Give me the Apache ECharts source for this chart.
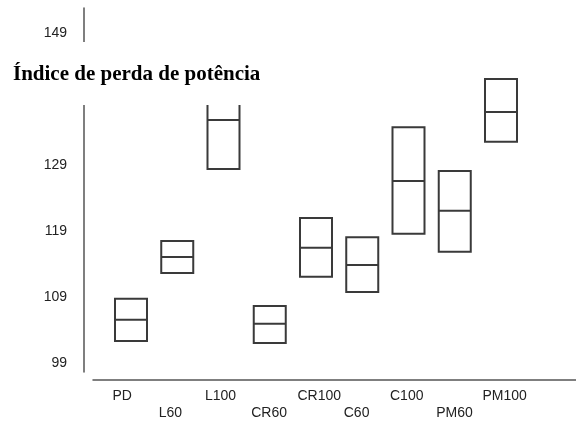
<!DOCTYPE html>
<html>
<head>
<meta charset="utf-8">
<script src="https://cdn.jsdelivr.net/npm/echarts@6/dist/echarts.min.js"></script>
<style>html,body{margin:0;padding:0;background:#fff}#c{width:576px;height:421px}</style>
</head>
<body>
<div id="c"></div>
<script>
const categories = ['PD','L60','L100','CR60','CR100','C60','C100','PM60','PM100'];
const lowerValues = [102.4, 112.7, 128.4, 102.1, 112.1, 109.8, 118.6, 115.9, 132.5];
const meanValues  = [105.6, 115.1, 135.8, 105.0, 116.5, 113.9, 126.6, 122.1, 137.0];
const upperValues = [108.8, 117.5, 143.2, 107.7, 121.0, 118.1, 134.7, 128.1, 142.0];
const yTickLabels = [99, 109, 119, 129, 139, 149];
const titleText = 'Índice de perda de potência';

const labelShift = 0.4;
const boxData = categories.map((c, i) => [i, lowerValues[i], meanValues[i], upperValues[i]]);

const chart = echarts.init(document.getElementById('c'), null, {renderer: 'canvas'});
chart.setOption({
  animation: false,
  backgroundColor: '#fff',
  title: {
    text: titleText,
    left: 0,
    top: 42,
    z: 10,
    padding: [21, 8, 18, 13],
    backgroundColor: '#fff',
    textStyle: {fontFamily: 'Liberation Serif', fontWeight: 'bold', fontSize: 21, color: '#000', lineHeight: 24}
  },
  grid: {left: 93, right: 0, top: 8, bottom: 49},
  xAxis: {
    type: 'value',
    min: -0.8216,
    max: 9.6216,
    offset: 8,
    splitLine: {show: false},
    axisTick: {show: false},
    axisLine: {show: true, onZero: false, lineStyle: {color: '#555', width: 1.5}},
    axisLabel: {
      customValues: categories.map((c, i) => i - labelShift),
      formatter: function (v) {
        const i = Math.round(v + labelShift);
        return (i % 2 === 1 ? '\n' : '') + categories[i];
      },
      align: 'left',
      margin: 8,
      fontFamily: 'Liberation Sans',
      fontSize: 14,
      lineHeight: 16.5,
      color: '#222'
    }
  },
  yAxis: {
    type: 'value',
    min: 97.72,
    max: 152.73,
    offset: 9,
    splitLine: {show: false},
    axisTick: {show: false},
    axisLine: {show: true, onZero: false, lineStyle: {color: '#555', width: 1.5}},
    axisLabel: {
      customValues: yTickLabels,
      margin: 17,
      fontFamily: 'Liberation Sans',
      fontSize: 14,
      color: '#222'
    }
  },
  series: [{
    type: 'custom',
    clip: false,
    data: boxData,
    encode: {x: 0, y: [1, 2, 3]},
    renderItem: function (params, api) {
      const i = api.value(0);
      const lo = api.value(1), mid = api.value(2), hi = api.value(3);
      const half = 0.346;
      const p1 = api.coord([i - half, hi]);
      const p2 = api.coord([i + half, lo]);
      const m1 = api.coord([i - half, mid]);
      const m2 = api.coord([i + half, mid]);
      const style = {fill: null, stroke: '#3a3a3a', lineWidth: 2};
      return {
        type: 'group',
        children: [
          {type: 'rect', shape: {x: p1[0], y: p1[1], width: p2[0] - p1[0], height: p2[1] - p1[1]}, style: style},
          {type: 'line', shape: {x1: m1[0], y1: m1[1], x2: m2[0], y2: m2[1]}, style: style}
        ]
      };
    }
  }]
});
</script>
</body>
</html>
